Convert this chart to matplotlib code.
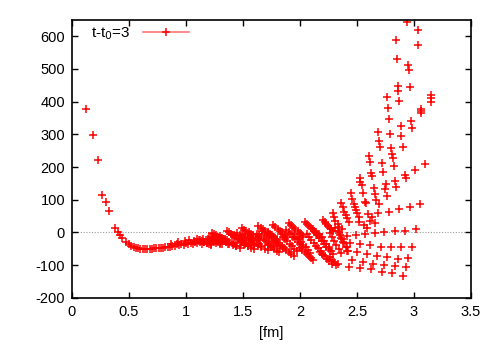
import matplotlib
matplotlib.use("Agg")
import matplotlib.pyplot as plt
from matplotlib.lines import Line2D

plt.rcParams['font.family'] = ['Liberation Sans', 'DejaVu Sans']
plt.rcParams['axes.unicode_minus'] = False

# --- short-distance curve ---
curve_x = [0.123, 0.184, 0.231, 0.266, 0.298, 0.327, 0.38, 0.40, 0.418, 0.44, 0.471, 0.497,
           0.52, 0.54, 0.56, 0.58, 0.60, 0.62, 0.64, 0.66, 0.68, 0.70, 0.72, 0.74, 0.76, 0.78,
           0.80, 0.82, 0.84, 0.86, 0.88, 0.90, 0.92, 0.94, 0.96, 0.98, 1.00, 1.02, 1.04, 1.06,
           1.08, 1.10, 1.12, 1.14, 1.16, 1.18, 1.20, 1.22, 1.24, 1.26, 1.28, 1.30,
           0.99, 1.03, 1.07, 1.11, 1.15, 1.19, 0.93, 0.87]
curve_y = [378, 299, 221, 115, 93, 67, 15, 0, -9, -16, -28, -35,
           -42, -45, -47, -49, -50, -51, -50, -51, -50, -50, -49, -49, -48, -47,
           -46, -45, -43, -44, -41, -40, -36, -38, -34, -37, -33, -36, -31, -35,
           -30, -33, -28, -34, -29, -32, -27, -35, -26, -31, -24, -36,
           -26, -24, -25, -22, -21, -20, -29, -35]

# --- streaks of the medium-distance band ---
band_x = [
    # upper streaks
    1.225, 1.245, 1.265, 1.285, 1.305, 1.325, 1.34,
    1.357, 1.377, 1.397, 1.417, 1.437, 1.457, 1.477, 1.49,
    1.49, 1.51, 1.53, 1.55, 1.57, 1.59, 1.61, 1.63, 1.65,
    1.635, 1.655, 1.675, 1.695, 1.715, 1.735, 1.755, 1.775, 1.80,
    1.766, 1.785, 1.805, 1.825, 1.845, 1.87, 1.89,
    1.90, 1.92, 1.94, 1.96, 1.98, 2.00, 2.015, 2.03,
    2.04, 2.06, 2.08, 2.10, 2.12, 2.14, 2.16, 2.175,
    2.20, 2.215, 2.23, 2.245, 2.26, 2.275, 2.29,
    2.287, 2.298, 2.31, 2.33, 2.345, 2.365,
    # core streaks
    1.10, 1.12, 1.14, 1.16, 1.18, 1.20, 1.22,
    1.20, 1.22, 1.24, 1.26, 1.28, 1.30, 1.32,
    1.30, 1.32, 1.34, 1.36, 1.38, 1.40, 1.42, 1.44,
    1.40, 1.42, 1.44, 1.46, 1.48, 1.50, 1.52, 1.54,
    1.52, 1.54, 1.56, 1.58, 1.60, 1.62, 1.64, 1.66,
    1.62, 1.64, 1.66, 1.68, 1.70, 1.72, 1.74, 1.76,
    1.72, 1.74, 1.76, 1.78, 1.80, 1.82, 1.84, 1.86,
    1.83, 1.85, 1.87, 1.89, 1.91, 1.93, 1.95, 1.97,
    1.95, 1.97, 1.99, 2.01, 2.03, 2.05, 2.07, 2.09,
    2.06, 2.08, 2.10, 2.12, 2.14, 2.16, 2.18, 2.20,
    2.17, 2.19, 2.21, 2.23, 2.25, 2.27, 2.29,
    2.26, 2.28, 2.30, 2.32, 2.34, 2.36,
    2.34, 2.36, 2.38, 2.40, 2.42,
    # extra core streaks
    1.25, 1.27, 1.29, 1.31, 1.33, 1.35, 1.37,
    1.45, 1.47, 1.49, 1.51, 1.53, 1.55, 1.57, 1.59,
    1.67, 1.69, 1.71, 1.73, 1.75, 1.77, 1.79, 1.81,
    1.88, 1.90, 1.92, 1.94, 1.96, 1.98, 2.00, 2.02,
    2.11, 2.13, 2.15, 2.17, 2.19, 2.21, 2.23, 2.25,
    2.31, 2.33, 2.35, 2.37, 2.39, 2.41,
    # lower streaks
    1.35, 1.38, 1.41, 1.44, 1.47,
    1.48, 1.51, 1.54, 1.57, 1.60,
    1.60, 1.63, 1.66, 1.69, 1.72,
    1.72, 1.745, 1.77, 1.795, 1.82,
    1.825, 1.85, 1.875, 1.90, 1.925, 1.95,
    2.00, 2.02, 2.04, 2.06, 2.08, 2.10, 2.117,
    2.175, 2.195, 2.215, 2.235, 2.255, 2.28,
    2.26, 2.28, 2.30, 2.32,
]
band_y = [
    -2, -6, -9, -13, -16, -20, -23,
    5, 1, -4, -8, -12, -16, -21, -25,
    13, 9, 4, 0, -5, -9, -14, -19, -24,
    19, 15, 10, 5, 0, -5, -9, -14, -19,
    23, 18, 12, 6, 0, -8, -14,
    28, 22, 16, 10, 3, -3, -8, -14,
    32, 26, 19, 13, 6, -1, -8, -14,
    38, 32, 25, 19, 14, 10, 6,
    61, 48, 36, 26, 18, 12,
    -20, -23, -26, -28, -31, -34, -37,
    -15, -18, -22, -25, -29, -32, -36,
    -12, -16, -20, -24, -28, -32, -36, -40,
    -8, -12, -17, -21, -26, -30, -35, -40,
    -6, -11, -16, -21, -26, -31, -36, -42,
    -4, -9, -15, -21, -27, -33, -39, -45,
    -2, -8, -14, -20, -27, -33, -40, -47,
    -6, -13, -20, -27, -35, -42, -50, -58,
    -5, -13, -21, -29, -37, -45, -53, -62,
    -4, -13, -22, -31, -40, -49, -58, -68,
    -5, -15, -25, -35, -45, -56, -67,
    -3, -14, -26, -38, -50, -62,
    -2, -16, -30, -44, -58,
    -10, -14, -18, -22, -26, -30, -34,
    -2, -7, -12, -17, -22, -27, -32, -37,
    5, -1, -7, -13, -19, -25, -31, -38,
    8, 1, -6, -14, -21, -29, -36, -44,
    10, 2, -7, -16, -25, -34, -43, -52,
    15, 3, -9, -21, -33, -45,
    -30, -34, -38, -42, -46,
    -33, -37, -42, -46, -50,
    -35, -40, -45, -50, -55,
    -38, -44, -50, -56, -61,
    -42, -48, -54, -60, -66, -72,
    -49, -55, -61, -67, -73, -79, -84,
    -59, -66, -73, -80, -87, -95,
    -75, -83, -91, -100,
]

# --- long-distance fan ---
fan_x = [
    2.36, 2.375, 2.386, 2.40, 2.415, 2.43,
    2.447, 2.46, 2.47, 2.48, 2.49, 2.50,
    2.526, 2.53, 2.54, 2.555, 2.567, 2.58, 2.596,
    2.515, 2.52, 2.564, 2.585, 2.605, 2.611, 2.62, 2.63, 2.65, 2.66, 2.67,
    2.634, 2.617, 2.66, 2.696, 2.687, 2.716, 2.725, 2.75, 2.745, 2.766,
    2.78, 2.82, 2.825, 2.83, 2.845, 2.87, 2.918, 2.927, 2.965, 3.01, 3.053, 3.10,
    # flat ray
    2.41, 2.49, 2.57, 2.66, 2.737, 2.83, 2.924, 3.015,
    # ray at -40
    2.44, 2.526, 2.614, 2.708, 2.796, 2.886, 2.98,
    # ray at -75
    2.415, 2.50, 2.585, 2.678, 2.76, 2.857, 2.947,
    # ray at -100
    2.453, 2.55, 2.643, 2.737, 2.833, 2.926,
    # lowest ray
    2.336, 2.43, 2.526, 2.62, 2.72, 2.81, 2.90,
    # top part
    2.936, 3.032, 2.842, 3.038, 2.848, 2.95, 2.956, 2.862, 2.862, 2.962,
    2.766, 2.868, 3.149, 3.149, 3.149, 2.77, 3.06, 3.06, 3.06, 2.78, 2.97,
    2.886, 2.98, 2.687, 2.79, 2.89, 2.69, 2.70, 2.80, 2.90, 2.804,
]
fan_y = [
    91, 77, 64, 54, 43, 33,
    120, 102, 87, 77, 69, 58,
    166, 154, 144, 120, 94, 90, 56,
    48, 33, 23, 13, 235, 215, 183, 173, 135, 118, 98,
    48, 36, 30, 87, 59, 212, 186, 147, 132, 111,
    64, 228, 202, 156, 140, 71, 176, 166, 79, 192, 87, 210,
    -11, -7, -5, -1, 0.5, 3, 5, 10,
    -33, -36, -39, -43, -43, -45, -43,
    -56, -60, -66, -72, -76, -81, -79,
    -84, -90, -95, -100, -103, -105,
    -95, -105, -110, -113, -120, -125, -132,
    644, 619, 588, 573, 532, 513, 497, 449, 433, 445,
    415, 403, 421, 412, 399, 382, 378, 371, 364, 346, 340,
    326, 320, 307, 300, 295, 280, 261, 259, 261, 241,
]

x_ticks = [0, 0.5, 1, 1.5, 2, 2.5, 3, 3.5]
y_ticks = [-200, -100, 0, 100, 200, 300, 400, 500, 600]

all_x = curve_x + band_x + fan_x
all_y = curve_y + band_y + fan_y

fig = plt.figure(figsize=(5, 3.5), dpi=100)
ax = fig.add_axes([0.144, 0.149, 0.798, 0.794])

ax.axhline(0, color='#999999', lw=0.8, ls=(0, (1, 1.5)), zorder=1)
ax.plot(all_x, all_y, ls='none', marker='+', ms=6, mew=1.1, color='red', zorder=2)

ax.set_xlim(0, 3.5)
ax.set_ylim(-200, 650)
ax.set_xticks(x_ticks)
ax.set_xticklabels(['0', '0.5', '1', '1.5', '2', '2.5', '3', '3.5'])
ax.set_yticks(y_ticks)
ax.tick_params(direction='in', top=True, right=True, length=4, width=1, labelsize=10.5, pad=5)
for s in ax.spines.values():
    s.set_linewidth(1.2)
ax.set_xlabel('[fm]', fontsize=10.5, labelpad=5)

handle = Line2D([], [], color='#ff7777', lw=1.2, marker='+', ms=6, mew=1.1,
                markeredgecolor='red')
ax.legend([handle], ['t-t$_0$=3'], loc='upper left', frameon=False, fontsize=11,
          markerfirst=False, handlelength=3.0, borderaxespad=0.2, handletextpad=0.8,
          bbox_to_anchor=(0.025, 1.015))

fig.savefig('out.png', dpi=100)
